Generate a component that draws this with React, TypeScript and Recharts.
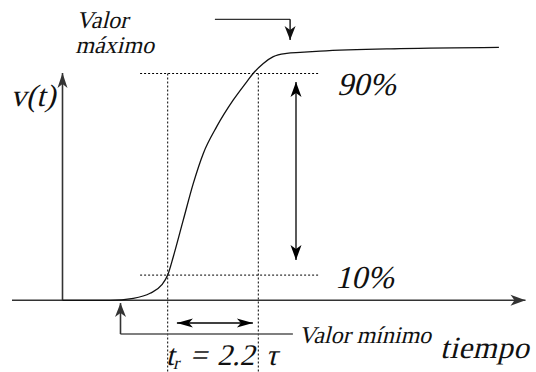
import React from 'react';
import { ComposedChart, Line, XAxis, YAxis, ReferenceLine, ReferenceDot } from 'recharts';

const W = 536;
const H = 372;

// Step response: time (arbitrary units, 1 unit ≈ τ) and v(t) in % of the final value
const timeValues = [0, 1.2, 1.77, 2.19, 2.48, 2.63, 2.77, 3.02, 3.27, 3.52, 3.855, 4.27, 4.605, 4.77, 5.02, 5.27, 5.605, 5.94, 6.44, 8.44, 10.91];
const voltageValues = [0, 0, 0.8, 2.8, 6.1, 10.0, 17.3, 31.9, 46.4, 58.3, 68.9, 79.5, 86.7, 90.1, 94.0, 96.7, 98.0, 98.4, 98.9, 99.9, 100.4];

const levelValues = [10, 90];
const levelLabels = ['10%', '90%'];
const riseTimes = [2.63, 4.895];

const xDomain = [-1.5625, 11.8375];
const yDomain = [-28.45, 119.17];
const xAxisRange = [-1.2625, 11.575];
const yAxisTop = 90.2;

const labelValorMax = ['Valor', 'máximo'];
const labelValorMin = 'Valor mínimo';
const labelY = 'v(t)';
const labelX = 'tiempo';

const data = timeValues.map((t, i) => ({ t, v: voltageValues[i] }));

const FONT = 'Liberation Serif';

function head(tipX: number, tipY: number, fromX: number, fromY: number, color: string, len = 15, half = 5.5, notch = 4) {
  const dx = tipX - fromX;
  const dy = tipY - fromY;
  const d = Math.hypot(dx, dy) || 1;
  const ux = dx / d;
  const uy = dy / d;
  const px = -uy;
  const py = ux;
  const bx = tipX - ux * len;
  const by = tipY - uy * len;
  const nx = tipX - ux * (len - notch);
  const ny = tipY - uy * (len - notch);
  const pts = [
    [tipX, tipY],
    [bx + px * half, by + py * half],
    [nx, ny],
    [bx - px * half, by - py * half],
  ]
    .map((p) => p.join(','))
    .join(' ');
  return <polygon points={pts} fill={color} stroke="none" />;
}

type ArrowOpts = { start?: boolean; end?: boolean; color?: string; width?: number; dash?: string; len?: number; half?: number };

const arrowShape = (opts: ArrowOpts) => (props: any) => {
  const { x1, y1, x2, y2 } = props;
  const color = opts.color ?? '#000';
  return (
    <g>
      <line x1={x1} y1={y1} x2={x2} y2={y2} stroke={color} strokeWidth={opts.width ?? 1.2} strokeDasharray={opts.dash} fill="none" />
      {opts.end ? head(x2, y2, x1, y1, color, opts.len, opts.half) : null}
      {opts.start ? head(x1, y1, x2, y2, color, opts.len, opts.half) : null}
    </g>
  );
};

// serif text, slanted with a skew so it looks italic
const textShape = (content: React.ReactNode, size: number, spacing = 0) => (props: any) => (
  <text
    transform={`translate(${props.cx},${props.cy}) skewX(-14)`}
    x={0}
    y={0}
    fontFamily={FONT}
    fontStyle="normal"
    fontSize={size}
    letterSpacing={spacing}
    fill="#111"
  >
    {content}
  </text>
);

const riseLabel = (
  <>
    <tspan>t</tspan>
    <tspan dy={4} fontSize={18}>r</tspan>
    <tspan dy={-4} dx={10}>=</tspan>
    <tspan dx={10}>2.2</tspan>
    <tspan dx={11}>τ</tspan>
  </>
);

export default function App() {
  const [t10, t90] = riseTimes;
  const [, lv90] = levelValues;
  return (
    <div style={{ position: 'absolute', left: 0, top: 0, width: W, height: H, background: '#fff' }}>
      <ComposedChart width={W} height={H} data={data} margin={{ top: 0, right: 0, bottom: 0, left: 0 }}>
        <XAxis type="number" dataKey="t" domain={xDomain} allowDataOverflow hide />
        <YAxis type="number" domain={yDomain} allowDataOverflow hide />

        {levelValues.map((lv) => (
          <ReferenceLine
            key={'lv' + lv}
            ifOverflow="visible"
            segment={[{ x: 1.94, y: lv }, { x: 6.4, y: lv }]}
            shape={arrowShape({ dash: '2 2', width: 1 })}
          />
        ))}
        {riseTimes.map((rt) => (
          <ReferenceLine
            key={'rt' + rt}
            ifOverflow="visible"
            segment={[{ x: rt, y: lv90 }, { x: rt, y: -28.4 }]}
            shape={arrowShape({ dash: '2 2', width: 1 })}
          />
        ))}

        <ReferenceLine
          ifOverflow="visible"
          segment={[{ x: xAxisRange[0], y: 0 }, { x: xAxisRange[1], y: 0 }]}
          shape={arrowShape({ end: true, width: 1.6, color: '#333' })}
        />
        <ReferenceLine
          ifOverflow="visible"
          segment={[{ x: 0, y: 0 }, { x: 0, y: yAxisTop }]}
          shape={arrowShape({ end: true, width: 1.6, color: '#333', half: 5 })}
        />

        <ReferenceLine
          ifOverflow="visible"
          segment={[{ x: 5.8375, y: 86.6 }, { x: 5.8375, y: 16.0 }]}
          shape={arrowShape({ start: true, end: true, width: 1.3 })}
        />
        <ReferenceLine
          ifOverflow="visible"
          segment={[{ x: t10 + 0.23, y: -9.0 }, { x: t90 - 0.135, y: -9.0 }]}
          shape={arrowShape({ start: true, end: true, width: 1.3, len: 16, half: 4.5 })}
        />

        <ReferenceLine
          ifOverflow="visible"
          segment={[{ x: 3.81, y: 111.5 }, { x: 5.69, y: 111.5 }]}
          shape={arrowShape({ width: 1.4, color: '#333' })}
        />
        <ReferenceLine
          ifOverflow="visible"
          segment={[{ x: 5.69, y: 111.5 }, { x: 5.69, y: 103.3 }]}
          shape={arrowShape({ end: true, width: 1.4, color: '#111', len: 14, half: 5.5 })}
        />

        <ReferenceLine
          ifOverflow="visible"
          segment={[{ x: 5.76, y: -13.4 }, { x: 1.45, y: -13.4 }]}
          shape={arrowShape({ width: 1.6, color: '#555' })}
        />
        <ReferenceLine
          ifOverflow="visible"
          segment={[{ x: 1.45, y: -13.4 }, { x: 1.45, y: -1.1 }]}
          shape={arrowShape({ end: true, width: 1.6, color: '#333', len: 14, half: 5.5 })}
        />

        <Line
          type="monotone"
          dataKey="v"
          stroke="#111"
          strokeWidth={1.3}
          dot={false}
          activeDot={false}
          isAnimationActive={false}
        />

        <ReferenceDot ifOverflow="visible" x={0.34} y={108.1} r={0} shape={textShape(labelValorMax[0], 24)} />
        <ReferenceDot ifOverflow="visible" x={0.32} y={98.1} r={0} shape={textShape(labelValorMax[1], 24)} />
        <ReferenceDot ifOverflow="visible" x={-1.3} y={77.1} r={0} shape={textShape(labelY, 31)} />
        <ReferenceDot ifOverflow="visible" x={6.86} y={81.5} r={0} shape={textShape(levelLabels[1], 32)} />
        <ReferenceDot ifOverflow="visible" x={6.81} y={4.9} r={0} shape={textShape(levelLabels[0], 32)} />
        <ReferenceDot ifOverflow="visible" x={5.9} y={-16.9} r={0} shape={textShape(labelValorMin, 24)} />
        <ReferenceDot ifOverflow="visible" x={9.44} y={-22.9} r={0} shape={textShape(labelX, 31, 0.5)} />
        <ReferenceDot ifOverflow="visible" x={2.58} y={-25.7} r={0} shape={textShape(riseLabel, 30)} />
      </ComposedChart>
    </div>
  );
}
